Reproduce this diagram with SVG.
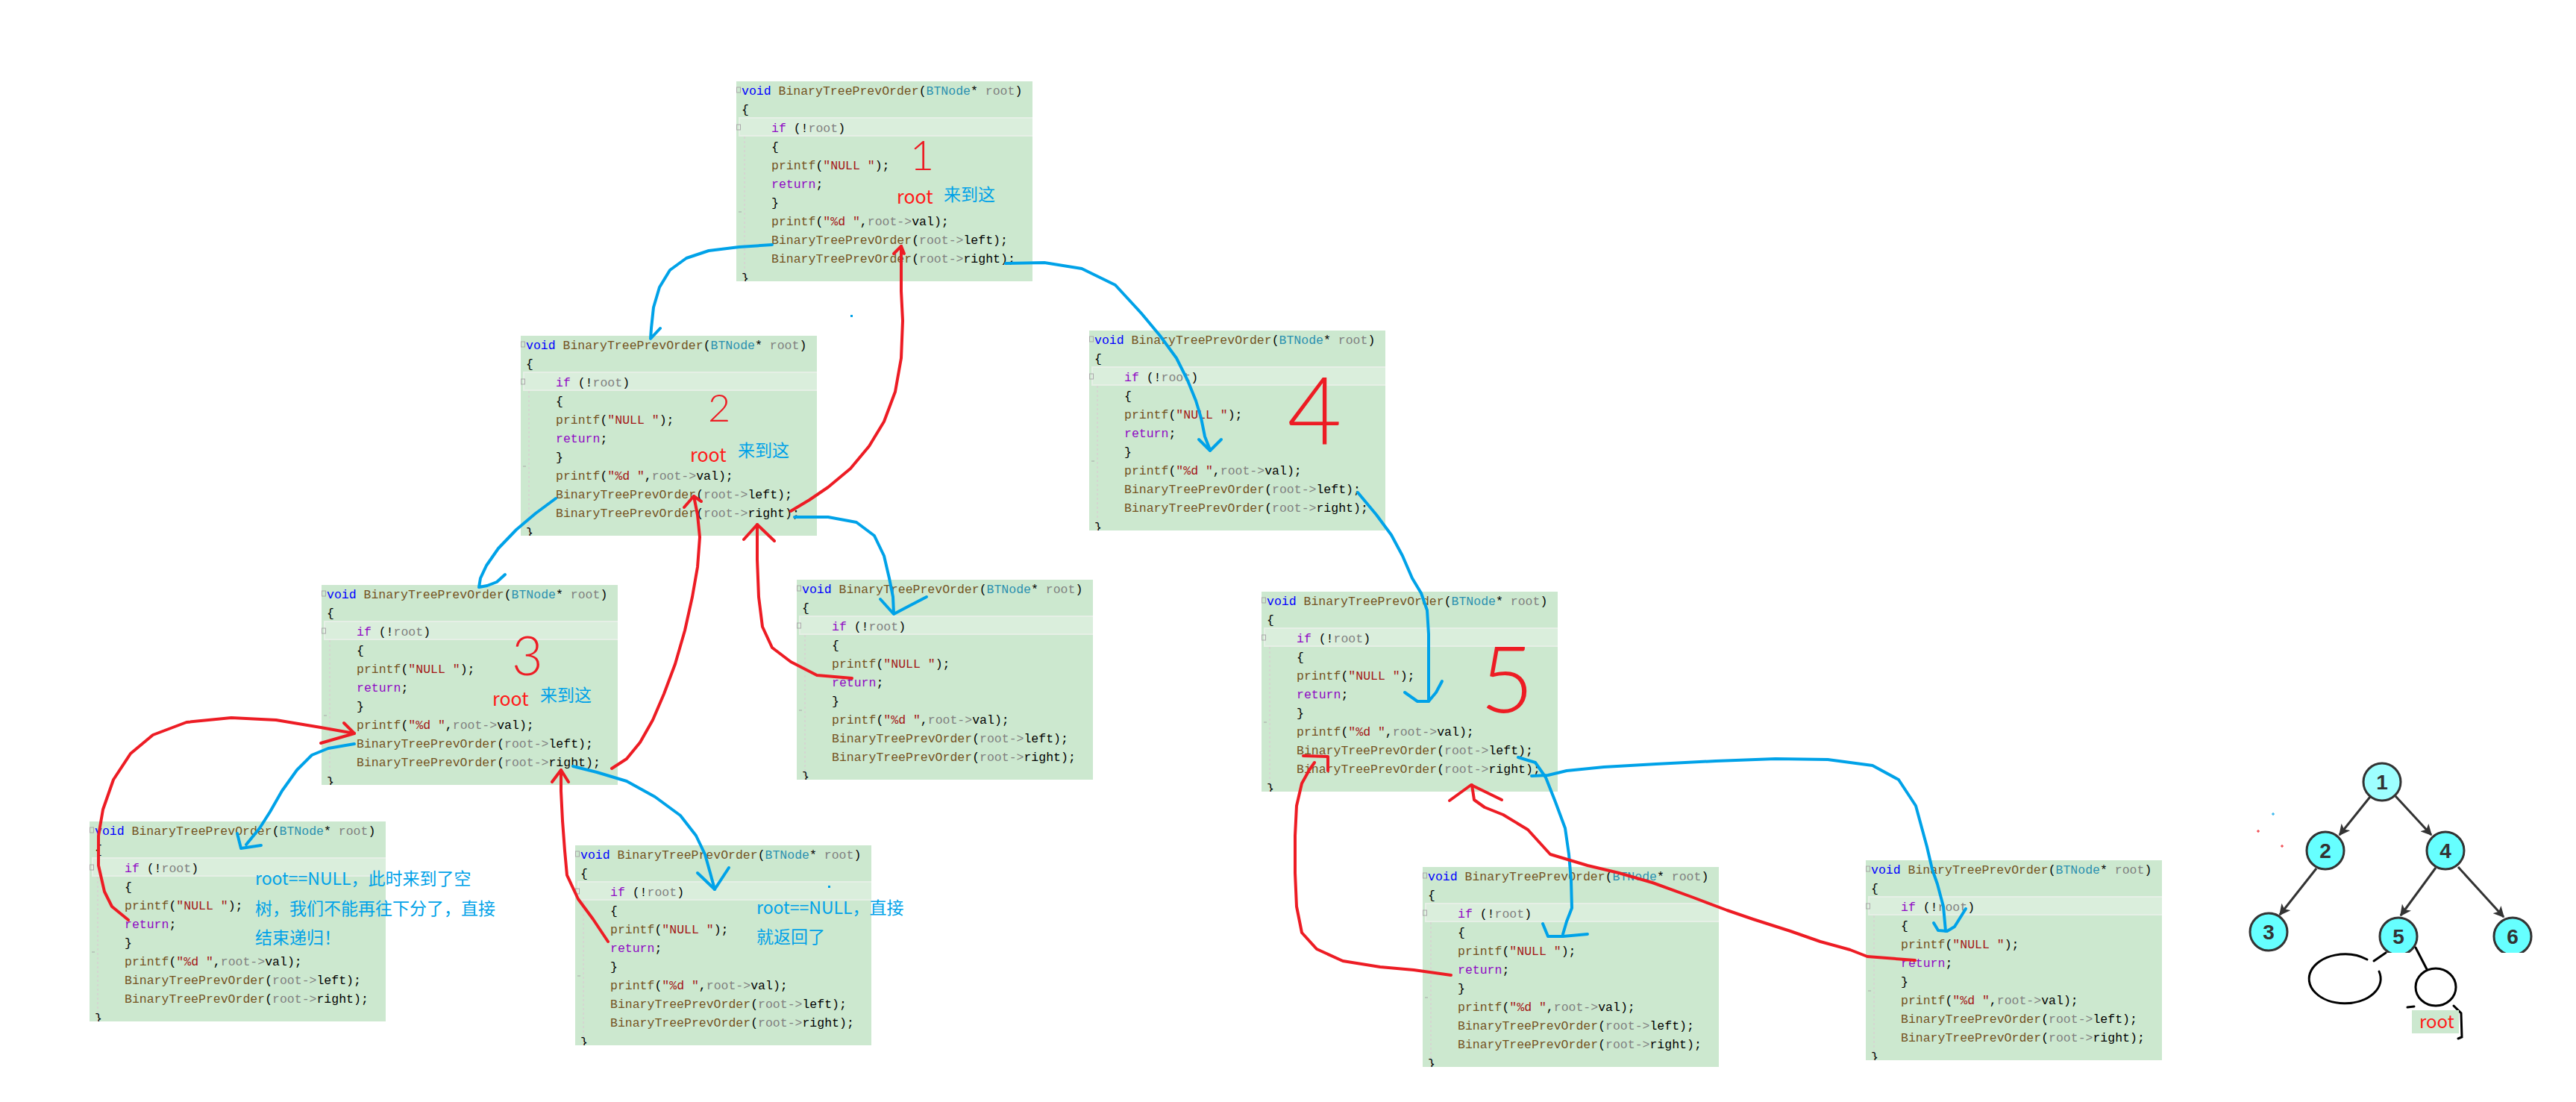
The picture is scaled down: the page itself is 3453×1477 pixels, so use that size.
<svg xmlns="http://www.w3.org/2000/svg" width="3453" height="1477" viewBox="0 0 3453 1477">
<defs>
<style>
.bg{fill:#CCE8CF}
.hl{fill:#DAEEDC;stroke:#E6EFE6;stroke-width:2}
.guide{stroke:#DCC6D2;stroke-width:1;stroke-dasharray:3 3}
.fold{fill:none;stroke:#A8A8A8;stroke-width:1}
.code{font-family:"Liberation Mono",monospace;font-size:16.5px;fill:#000}
.k{fill:#0000FF}.f{fill:#74531F}.t{fill:#2B91AF}.p{fill:#808080}.c{fill:#8F08C4}.s{fill:#A31515}
.blue{fill:none;stroke:#00A2E8;stroke-width:4;stroke-linecap:round;stroke-linejoin:round}
.red{fill:none;stroke:#ED1C24;stroke-width:4;stroke-linecap:round;stroke-linejoin:round}
.annb{font-family:"Noto Sans CJK SC","Noto Sans",sans-serif;font-size:23px;fill:#00A2E8}
.annr{font-family:"Noto Sans CJK SC","Noto Sans",sans-serif;font-size:25px;fill:#FF1A1A}
.num{font-family:Lato,"Liberation Sans",sans-serif;fill:#ED1C24;text-anchor:middle;font-weight:300}
.tn{fill:#66FFFF;stroke:#333;stroke-width:3}
.tl{font-family:"Liberation Sans",sans-serif;font-weight:bold;font-size:28px;fill:#333;text-anchor:middle}
.te{stroke:#333;stroke-width:3;fill:none}
.hand{fill:none;stroke:#000;stroke-width:3;stroke-linecap:round}
</style>
<clipPath id="blkclip" clipPathUnits="userSpaceOnUse"><rect x="0" y="0" width="397" height="268"/></clipPath>
<clipPath id="treeclip" clipPathUnits="userSpaceOnUse"><rect x="3140" y="1190" width="280" height="87"/></clipPath>
<marker id="ah" viewBox="0 0 10 10" refX="9" refY="5" markerWidth="5" markerHeight="5" orient="auto"><path d="M0,0 L10,5 L0,10 L2.5,5 z" fill="#333"/></marker>
</defs>
<rect width="3453" height="1477" fill="#FFFFFF"/>

<g id="nodes">
<g id="call-1" transform="translate(987,109)" clip-path="url(#blkclip)">
<rect class="bg" width="397" height="268"/><rect class="hl" x="4" y="49" width="395" height="24"/>
<line class="guide" x1="11" y1="74" x2="11" y2="268"/><rect class="fold" x="0.5" y="8" width="5" height="7"/><rect class="fold" x="0.5" y="58" width="5" height="7"/><line class="fold" x1="3" y1="175" x2="7" y2="175"/>
<text class="code"><tspan x="7" y="18"><tspan class="k">void</tspan> <tspan class="f">BinaryTreePrevOrder</tspan>(<tspan class="t">BTNode</tspan>* <tspan class="p">root</tspan>)</tspan><tspan x="7" y="43">{</tspan><tspan x="47" y="68"><tspan class="c">if</tspan> (!<tspan class="p">root</tspan>)</tspan><tspan x="47" y="93">{</tspan><tspan x="47" y="118"><tspan class="f">printf</tspan>(<tspan class="s">"NULL "</tspan>);</tspan><tspan x="47" y="143"><tspan class="c">return</tspan>;</tspan><tspan x="47" y="168">}</tspan><tspan x="47" y="193"><tspan class="f">printf</tspan>(<tspan class="s">"%d "</tspan>,<tspan class="p">root-&gt;</tspan>val);</tspan><tspan x="47" y="218"><tspan class="f">BinaryTreePrevOrder</tspan>(<tspan class="p">root-&gt;</tspan>left);</tspan><tspan x="47" y="243"><tspan class="f">BinaryTreePrevOrder</tspan>(<tspan class="p">root-&gt;</tspan>right);</tspan><tspan x="7" y="269">}</tspan></text>
</g>
<g id="call-2" transform="translate(698,450)" clip-path="url(#blkclip)">
<rect class="bg" width="397" height="268"/><rect class="hl" x="4" y="49" width="395" height="24"/>
<line class="guide" x1="11" y1="74" x2="11" y2="268"/><rect class="fold" x="0.5" y="8" width="5" height="7"/><rect class="fold" x="0.5" y="58" width="5" height="7"/><line class="fold" x1="3" y1="175" x2="7" y2="175"/>
<text class="code"><tspan x="7" y="18"><tspan class="k">void</tspan> <tspan class="f">BinaryTreePrevOrder</tspan>(<tspan class="t">BTNode</tspan>* <tspan class="p">root</tspan>)</tspan><tspan x="7" y="43">{</tspan><tspan x="47" y="68"><tspan class="c">if</tspan> (!<tspan class="p">root</tspan>)</tspan><tspan x="47" y="93">{</tspan><tspan x="47" y="118"><tspan class="f">printf</tspan>(<tspan class="s">"NULL "</tspan>);</tspan><tspan x="47" y="143"><tspan class="c">return</tspan>;</tspan><tspan x="47" y="168">}</tspan><tspan x="47" y="193"><tspan class="f">printf</tspan>(<tspan class="s">"%d "</tspan>,<tspan class="p">root-&gt;</tspan>val);</tspan><tspan x="47" y="218"><tspan class="f">BinaryTreePrevOrder</tspan>(<tspan class="p">root-&gt;</tspan>left);</tspan><tspan x="47" y="243"><tspan class="f">BinaryTreePrevOrder</tspan>(<tspan class="p">root-&gt;</tspan>right);</tspan><tspan x="7" y="269">}</tspan></text>
</g>
<g id="call-3" transform="translate(431,784)" clip-path="url(#blkclip)">
<rect class="bg" width="397" height="268"/><rect class="hl" x="4" y="49" width="395" height="24"/>
<line class="guide" x1="11" y1="74" x2="11" y2="268"/><rect class="fold" x="0.5" y="8" width="5" height="7"/><rect class="fold" x="0.5" y="58" width="5" height="7"/><line class="fold" x1="3" y1="175" x2="7" y2="175"/>
<text class="code"><tspan x="7" y="18"><tspan class="k">void</tspan> <tspan class="f">BinaryTreePrevOrder</tspan>(<tspan class="t">BTNode</tspan>* <tspan class="p">root</tspan>)</tspan><tspan x="7" y="43">{</tspan><tspan x="47" y="68"><tspan class="c">if</tspan> (!<tspan class="p">root</tspan>)</tspan><tspan x="47" y="93">{</tspan><tspan x="47" y="118"><tspan class="f">printf</tspan>(<tspan class="s">"NULL "</tspan>);</tspan><tspan x="47" y="143"><tspan class="c">return</tspan>;</tspan><tspan x="47" y="168">}</tspan><tspan x="47" y="193"><tspan class="f">printf</tspan>(<tspan class="s">"%d "</tspan>,<tspan class="p">root-&gt;</tspan>val);</tspan><tspan x="47" y="218"><tspan class="f">BinaryTreePrevOrder</tspan>(<tspan class="p">root-&gt;</tspan>left);</tspan><tspan x="47" y="243"><tspan class="f">BinaryTreePrevOrder</tspan>(<tspan class="p">root-&gt;</tspan>right);</tspan><tspan x="7" y="269">}</tspan></text>
</g>
<g id="call-3-left-null" transform="translate(120,1101)" clip-path="url(#blkclip)">
<rect class="bg" width="397" height="268"/><rect class="hl" x="4" y="49" width="395" height="24"/>
<line class="guide" x1="11" y1="74" x2="11" y2="268"/><rect class="fold" x="0.5" y="8" width="5" height="7"/><rect class="fold" x="0.5" y="58" width="5" height="7"/><line class="fold" x1="3" y1="175" x2="7" y2="175"/>
<text class="code"><tspan x="7" y="18"><tspan class="k">void</tspan> <tspan class="f">BinaryTreePrevOrder</tspan>(<tspan class="t">BTNode</tspan>* <tspan class="p">root</tspan>)</tspan><tspan x="7" y="43">{</tspan><tspan x="47" y="68"><tspan class="c">if</tspan> (!<tspan class="p">root</tspan>)</tspan><tspan x="47" y="93">{</tspan><tspan x="47" y="118"><tspan class="f">printf</tspan>(<tspan class="s">"NULL "</tspan>);</tspan><tspan x="47" y="143"><tspan class="c">return</tspan>;</tspan><tspan x="47" y="168">}</tspan><tspan x="47" y="193"><tspan class="f">printf</tspan>(<tspan class="s">"%d "</tspan>,<tspan class="p">root-&gt;</tspan>val);</tspan><tspan x="47" y="218"><tspan class="f">BinaryTreePrevOrder</tspan>(<tspan class="p">root-&gt;</tspan>left);</tspan><tspan x="47" y="243"><tspan class="f">BinaryTreePrevOrder</tspan>(<tspan class="p">root-&gt;</tspan>right);</tspan><tspan x="7" y="269">}</tspan></text>
</g>
<g id="call-3-right-null" transform="translate(771,1133)" clip-path="url(#blkclip)">
<rect class="bg" width="397" height="268"/><rect class="hl" x="4" y="49" width="395" height="24"/>
<line class="guide" x1="11" y1="74" x2="11" y2="268"/><rect class="fold" x="0.5" y="8" width="5" height="7"/><rect class="fold" x="0.5" y="58" width="5" height="7"/><line class="fold" x1="3" y1="175" x2="7" y2="175"/>
<text class="code"><tspan x="7" y="18"><tspan class="k">void</tspan> <tspan class="f">BinaryTreePrevOrder</tspan>(<tspan class="t">BTNode</tspan>* <tspan class="p">root</tspan>)</tspan><tspan x="7" y="43">{</tspan><tspan x="47" y="68"><tspan class="c">if</tspan> (!<tspan class="p">root</tspan>)</tspan><tspan x="47" y="93">{</tspan><tspan x="47" y="118"><tspan class="f">printf</tspan>(<tspan class="s">"NULL "</tspan>);</tspan><tspan x="47" y="143"><tspan class="c">return</tspan>;</tspan><tspan x="47" y="168">}</tspan><tspan x="47" y="193"><tspan class="f">printf</tspan>(<tspan class="s">"%d "</tspan>,<tspan class="p">root-&gt;</tspan>val);</tspan><tspan x="47" y="218"><tspan class="f">BinaryTreePrevOrder</tspan>(<tspan class="p">root-&gt;</tspan>left);</tspan><tspan x="47" y="243"><tspan class="f">BinaryTreePrevOrder</tspan>(<tspan class="p">root-&gt;</tspan>right);</tspan><tspan x="7" y="269">}</tspan></text>
</g>
<g id="call-2-right-null" transform="translate(1068,777)" clip-path="url(#blkclip)">
<rect class="bg" width="397" height="268"/><rect class="hl" x="4" y="49" width="395" height="24"/>
<line class="guide" x1="11" y1="74" x2="11" y2="268"/><rect class="fold" x="0.5" y="8" width="5" height="7"/><rect class="fold" x="0.5" y="58" width="5" height="7"/><line class="fold" x1="3" y1="175" x2="7" y2="175"/>
<text class="code"><tspan x="7" y="18"><tspan class="k">void</tspan> <tspan class="f">BinaryTreePrevOrder</tspan>(<tspan class="t">BTNode</tspan>* <tspan class="p">root</tspan>)</tspan><tspan x="7" y="43">{</tspan><tspan x="47" y="68"><tspan class="c">if</tspan> (!<tspan class="p">root</tspan>)</tspan><tspan x="47" y="93">{</tspan><tspan x="47" y="118"><tspan class="f">printf</tspan>(<tspan class="s">"NULL "</tspan>);</tspan><tspan x="47" y="143"><tspan class="c">return</tspan>;</tspan><tspan x="47" y="168">}</tspan><tspan x="47" y="193"><tspan class="f">printf</tspan>(<tspan class="s">"%d "</tspan>,<tspan class="p">root-&gt;</tspan>val);</tspan><tspan x="47" y="218"><tspan class="f">BinaryTreePrevOrder</tspan>(<tspan class="p">root-&gt;</tspan>left);</tspan><tspan x="47" y="243"><tspan class="f">BinaryTreePrevOrder</tspan>(<tspan class="p">root-&gt;</tspan>right);</tspan><tspan x="7" y="269">}</tspan></text>
</g>
<g id="call-4" transform="translate(1460,443)" clip-path="url(#blkclip)">
<rect class="bg" width="397" height="268"/><rect class="hl" x="4" y="49" width="395" height="24"/>
<line class="guide" x1="11" y1="74" x2="11" y2="268"/><rect class="fold" x="0.5" y="8" width="5" height="7"/><rect class="fold" x="0.5" y="58" width="5" height="7"/><line class="fold" x1="3" y1="175" x2="7" y2="175"/>
<text class="code"><tspan x="7" y="18"><tspan class="k">void</tspan> <tspan class="f">BinaryTreePrevOrder</tspan>(<tspan class="t">BTNode</tspan>* <tspan class="p">root</tspan>)</tspan><tspan x="7" y="43">{</tspan><tspan x="47" y="68"><tspan class="c">if</tspan> (!<tspan class="p">root</tspan>)</tspan><tspan x="47" y="93">{</tspan><tspan x="47" y="118"><tspan class="f">printf</tspan>(<tspan class="s">"NULL "</tspan>);</tspan><tspan x="47" y="143"><tspan class="c">return</tspan>;</tspan><tspan x="47" y="168">}</tspan><tspan x="47" y="193"><tspan class="f">printf</tspan>(<tspan class="s">"%d "</tspan>,<tspan class="p">root-&gt;</tspan>val);</tspan><tspan x="47" y="218"><tspan class="f">BinaryTreePrevOrder</tspan>(<tspan class="p">root-&gt;</tspan>left);</tspan><tspan x="47" y="243"><tspan class="f">BinaryTreePrevOrder</tspan>(<tspan class="p">root-&gt;</tspan>right);</tspan><tspan x="7" y="269">}</tspan></text>
</g>
<g id="call-5" transform="translate(1691,793)" clip-path="url(#blkclip)">
<rect class="bg" width="397" height="268"/><rect class="hl" x="4" y="49" width="395" height="24"/>
<line class="guide" x1="11" y1="74" x2="11" y2="268"/><rect class="fold" x="0.5" y="8" width="5" height="7"/><rect class="fold" x="0.5" y="58" width="5" height="7"/><line class="fold" x1="3" y1="175" x2="7" y2="175"/>
<text class="code"><tspan x="7" y="18"><tspan class="k">void</tspan> <tspan class="f">BinaryTreePrevOrder</tspan>(<tspan class="t">BTNode</tspan>* <tspan class="p">root</tspan>)</tspan><tspan x="7" y="43">{</tspan><tspan x="47" y="68"><tspan class="c">if</tspan> (!<tspan class="p">root</tspan>)</tspan><tspan x="47" y="93">{</tspan><tspan x="47" y="118"><tspan class="f">printf</tspan>(<tspan class="s">"NULL "</tspan>);</tspan><tspan x="47" y="143"><tspan class="c">return</tspan>;</tspan><tspan x="47" y="168">}</tspan><tspan x="47" y="193"><tspan class="f">printf</tspan>(<tspan class="s">"%d "</tspan>,<tspan class="p">root-&gt;</tspan>val);</tspan><tspan x="47" y="218"><tspan class="f">BinaryTreePrevOrder</tspan>(<tspan class="p">root-&gt;</tspan>left);</tspan><tspan x="47" y="243"><tspan class="f">BinaryTreePrevOrder</tspan>(<tspan class="p">root-&gt;</tspan>right);</tspan><tspan x="7" y="269">}</tspan></text>
</g>
<g id="call-5-left-null" transform="translate(1907,1162)" clip-path="url(#blkclip)">
<rect class="bg" width="397" height="268"/><rect class="hl" x="4" y="49" width="395" height="24"/>
<line class="guide" x1="11" y1="74" x2="11" y2="268"/><rect class="fold" x="0.5" y="8" width="5" height="7"/><rect class="fold" x="0.5" y="58" width="5" height="7"/><line class="fold" x1="3" y1="175" x2="7" y2="175"/>
<text class="code"><tspan x="7" y="18"><tspan class="k">void</tspan> <tspan class="f">BinaryTreePrevOrder</tspan>(<tspan class="t">BTNode</tspan>* <tspan class="p">root</tspan>)</tspan><tspan x="7" y="43">{</tspan><tspan x="47" y="68"><tspan class="c">if</tspan> (!<tspan class="p">root</tspan>)</tspan><tspan x="47" y="93">{</tspan><tspan x="47" y="118"><tspan class="f">printf</tspan>(<tspan class="s">"NULL "</tspan>);</tspan><tspan x="47" y="143"><tspan class="c">return</tspan>;</tspan><tspan x="47" y="168">}</tspan><tspan x="47" y="193"><tspan class="f">printf</tspan>(<tspan class="s">"%d "</tspan>,<tspan class="p">root-&gt;</tspan>val);</tspan><tspan x="47" y="218"><tspan class="f">BinaryTreePrevOrder</tspan>(<tspan class="p">root-&gt;</tspan>left);</tspan><tspan x="47" y="243"><tspan class="f">BinaryTreePrevOrder</tspan>(<tspan class="p">root-&gt;</tspan>right);</tspan><tspan x="7" y="269">}</tspan></text>
</g>
<g id="call-5-right-null" transform="translate(2501,1153)" clip-path="url(#blkclip)">
<rect class="bg" width="397" height="268"/><rect class="hl" x="4" y="49" width="395" height="24"/>
<line class="guide" x1="11" y1="74" x2="11" y2="268"/><rect class="fold" x="0.5" y="8" width="5" height="7"/><rect class="fold" x="0.5" y="58" width="5" height="7"/><line class="fold" x1="3" y1="175" x2="7" y2="175"/>
<text class="code"><tspan x="7" y="18"><tspan class="k">void</tspan> <tspan class="f">BinaryTreePrevOrder</tspan>(<tspan class="t">BTNode</tspan>* <tspan class="p">root</tspan>)</tspan><tspan x="7" y="43">{</tspan><tspan x="47" y="68"><tspan class="c">if</tspan> (!<tspan class="p">root</tspan>)</tspan><tspan x="47" y="93">{</tspan><tspan x="47" y="118"><tspan class="f">printf</tspan>(<tspan class="s">"NULL "</tspan>);</tspan><tspan x="47" y="143"><tspan class="c">return</tspan>;</tspan><tspan x="47" y="168">}</tspan><tspan x="47" y="193"><tspan class="f">printf</tspan>(<tspan class="s">"%d "</tspan>,<tspan class="p">root-&gt;</tspan>val);</tspan><tspan x="47" y="218"><tspan class="f">BinaryTreePrevOrder</tspan>(<tspan class="p">root-&gt;</tspan>left);</tspan><tspan x="47" y="243"><tspan class="f">BinaryTreePrevOrder</tspan>(<tspan class="p">root-&gt;</tspan>right);</tspan><tspan x="7" y="269">}</tspan></text>
</g>
</g>

<g id="connectors">
<path class="blue" d="M1035,328 L991,331 L950,336 L920,346 L898,362 L884,385 L876,412 L873,440 L872,454 L885,440"/>
<path class="blue" d="M1348,353 L1400,352 L1450,360 L1495,382 L1530,420 L1555,450 L1577,480 L1592,510 L1603,537 L1610,560 L1615,585 L1622,603"/>
<path class="blue" d="M1607,589 L1622,604 L1637,589"/>
<path class="blue" d="M745,668 L718,688 L692,710 L668,735 L652,758 L644,775 L642,787 L653,785 L666,780 L677,770"/>
<path class="blue" d="M1065,693 L1110,693 L1148,700 L1172,718 L1185,745 L1192,775 L1197,800 L1198,822"/>
<path class="blue" d="M1180,803 L1198,823 L1217,813 L1242,800"/>
<path class="blue" d="M475,997 L440,1003 L418,1012 L398,1032 L378,1060 L362,1088 L348,1110 L330,1132"/>
<path class="blue" d="M318,1117 L323,1137 L350,1133"/>
<path class="blue" d="M768,1027 L800,1035 L840,1047 L878,1068 L912,1093 L933,1120 L945,1145 L952,1170 L958,1192"/>
<path class="blue" d="M935,1170 L958,1192 L977,1163"/>
<path class="blue" d="M1820,660 L1845,690 L1865,717 L1880,745 L1893,775 L1905,795 L1913,818 L1915,850 L1915,900 L1915,940"/>
<path class="blue" d="M1883,928 L1900,940 L1915,940 L1925,928 L1933,913"/>
<path class="blue" d="M2035,1015 L2058,1022 L2072,1042 L2085,1075 L2098,1110 L2103,1145 L2106,1180 L2107,1217 L2100,1235 L2095,1252"/>
<path class="blue" d="M2068,1238 L2075,1255 L2095,1255 L2128,1252"/>
<path class="blue" d="M2053,1040 L2075,1039 L2100,1033 L2150,1028 L2220,1024 L2300,1020 L2380,1017 L2450,1018 L2510,1026 L2545,1045 L2568,1080 L2583,1135 L2590,1165 L2597,1185 L2605,1215 L2608,1248"/>
<path class="blue" d="M2592,1237 L2598,1247 L2610,1248 L2620,1242 L2635,1218"/>
<path class="red" d="M1060,685 L1085,670 L1110,653 L1140,628 L1165,598 L1185,565 L1200,525 L1208,480 L1210,430 L1208,390 L1208,345 L1208,330"/>
<path class="red" d="M1198,340 L1208,330 L1212,340"/>
<path class="red" d="M820,1030 L840,1017 L858,995 L875,965 L890,930 L905,890 L918,845 L928,800 L935,760 L938,720 L935,690 L930,665"/>
<path class="red" d="M917,680 L930,665 L940,672"/>
<path class="red" d="M1142,909 L1095,905 L1060,887 L1035,868 L1022,840 L1017,800 L1015,750 L1015,703"/>
<path class="red" d="M997,723 L1015,703 L1038,725"/>
<path class="red" d="M172,1233 L150,1215 L140,1195 L132,1160 L132,1120 L138,1085 L152,1045 L175,1010 L205,985 L250,968 L310,962 L370,965 L430,975 L475,983"/>
<path class="red" d="M461,969 L475,983 L430,996"/>
<path class="red" d="M815,1262 L795,1232 L775,1205 L760,1173 L757,1140 L754,1100 L752,1060 L752,1032"/>
<path class="red" d="M740,1048 L752,1032 L762,1048"/>
<path class="red" d="M1945,1307 L1895,1300 L1850,1296 L1800,1288 L1765,1272 L1745,1250 L1738,1215 L1736,1170 L1736,1120 L1738,1080 L1745,1050 L1755,1032 L1762,1022"/>
<path class="red" d="M1747,1013 L1780,1014 L1780,1033"/>
<path class="red" d="M2567,1287 L2503,1282 L2480,1273 L2440,1262 L2400,1248 L2350,1232 L2315,1220 L2270,1203 L2215,1183 L2170,1170 L2128,1160 L2078,1145 L2048,1112 L2015,1092 L1990,1082 L1976,1072 L1973,1052"/>
<path class="red" d="M1943,1073 L1972,1052 L2013,1072"/>
</g>

<g id="annotations">
<text class="num" x="1236" y="228" font-size="56">1</text>
<text class="num" x="964" y="565" font-size="52">2</text>
<text class="num" x="707" y="905" font-size="72">3</text>
<text class="num" x="1762" y="596" font-size="126">4</text>
<text class="num" x="2020" y="955" font-size="125">5</text>
<text class="annr" x="1202" y="273">root</text>
<text class="annb" x="1265" y="269">来到这</text>
<text class="annr" x="925" y="619">root</text>
<text class="annb" x="989" y="612">来到这</text>
<text class="annr" x="660" y="946">root</text>
<text class="annb" x="724" y="940">来到这</text>
<text class="annb" x="342" y="1186">root==NULL，此时来到了空</text>
<text class="annb" x="342" y="1226">树，我们不能再往下分了，直接</text>
<text class="annb" x="342" y="1265">结束递归！</text>
<text class="annb" x="1014" y="1225">root==NULL，直接</text>
<text class="annb" x="1014" y="1264">就返回了</text>
<g id="specks">
<rect x="1140" y="422" width="3" height="3" fill="#00A2E8"/>
<rect x="1110" y="1187" width="3" height="3" fill="#00A2E8"/>
<path d="M3045,1091 h4 M3047,1089 v4" stroke="#00A2E8" stroke-width="1"/>
<path d="M3025,1114 h4 M3027,1112 v4" stroke="#ED1C24" stroke-width="1"/>
<path d="M3057,1134 h4 M3059,1132 v4" stroke="#ED1C24" stroke-width="1"/>
</g>
</g>

<g id="tree">
<g id="tree-edges">
<line class="te" x1="3177" y1="1068" x2="3136" y2="1119" marker-end="url(#ah)"/>
<line class="te" x1="3211" y1="1067" x2="3259" y2="1119" marker-end="url(#ah)"/>
<line class="te" x1="3105" y1="1164" x2="3056" y2="1226" marker-end="url(#ah)"/>
<line class="te" x1="3265" y1="1163" x2="3218" y2="1227" marker-end="url(#ah)"/>
<line class="te" x1="3295" y1="1162" x2="3356" y2="1229" marker-end="url(#ah)"/>
</g>
<g id="tree-node-1"><circle class="tn" cx="3193" cy="1048" r="25" style="fill:#9EFFFF"/><text class="tl" x="3193" y="1058">1</text></g>
<g id="tree-node-2"><circle class="tn" cx="3117" cy="1140" r="25"/><text class="tl" x="3117" y="1150">2</text></g>
<g id="tree-node-4"><circle class="tn" cx="3278" cy="1140" r="25"/><text class="tl" x="3278" y="1150">4</text></g>
<g id="tree-node-3"><circle class="tn" cx="3041" cy="1249" r="25"/><text class="tl" x="3041" y="1259">3</text></g>
<g id="tree-node-5" clip-path="url(#treeclip)"><circle class="tn" cx="3215" cy="1255" r="25"/><text class="tl" x="3215" y="1265">5</text></g>
<g id="tree-node-6" clip-path="url(#treeclip)"><circle class="tn" cx="3368" cy="1255" r="25"/><text class="tl" x="3368" y="1265">6</text></g>
<g id="tree-null-left">
<path class="hand" d="M3198,1277 L3182,1288"/>
<path class="hand" d="M3173,1286 A48 33 0 1 0 3189,1302"/>
</g>
<g id="tree-null-right">
<path class="hand" d="M3238,1270 L3253,1299"/>
<ellipse class="hand" cx="3265" cy="1323" rx="27" ry="25"/>
<path class="hand" d="M3227,1350 L3236,1349 M3289,1348 L3299,1358 L3300,1390 L3295,1392" stroke-width="2"/>
<rect x="3233" y="1354" width="63" height="31" fill="#CCE8CF"/>
<text class="annr" x="3243" y="1378" style="font-size:24px">root</text>
</g>
</g>
</svg>
